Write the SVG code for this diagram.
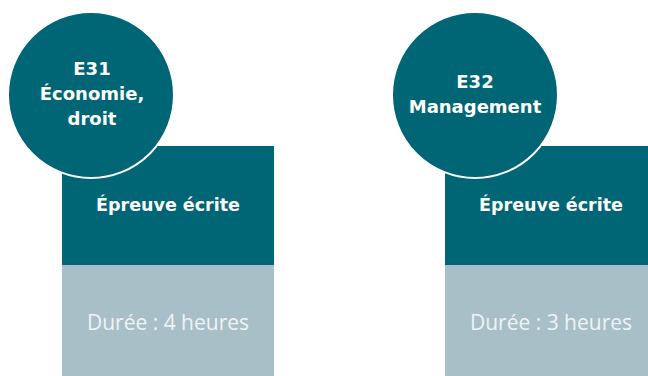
<svg xmlns="http://www.w3.org/2000/svg" width="648" height="376" viewBox="0 0 648 376">
<style>
.dark{fill:#006675}
.light{fill:#a8bfc8}
.circ{fill:#006675;stroke:#ffffff;stroke-width:2}
.hd{font-family:"DejaVu Sans",sans-serif;font-weight:bold;fill:#ffffff;text-anchor:middle}
.ep{font-family:"DejaVu Sans",sans-serif;font-weight:bold;font-size:17.5px;fill:#ffffff;text-anchor:middle}
.du{font-family:"Open Sans",sans-serif;font-size:21px;fill:#eef3f5;text-anchor:middle}
</style>
<rect width="648" height="376" fill="#ffffff"/>
<g id="e31">
<rect class="dark" x="62" y="146" width="212" height="119"/>
<rect class="light" x="62" y="265" width="212" height="111"/>
<text class="ep" x="168" y="211">Épreuve écrite</text>
<text class="du" x="168" y="330">Durée : 4 heures</text>
<circle class="circ" cx="91" cy="95" r="83"/>
<text class="hd" font-size="18" x="92" y="75">E31</text>
<text class="hd" font-size="18" x="92" y="100">Économie,</text>
<text class="hd" font-size="18" x="92" y="125">droit</text>
</g>
<g id="e32">
<rect class="dark" x="445" y="146" width="212" height="119"/>
<rect class="light" x="445" y="265" width="212" height="111"/>
<text class="ep" x="551" y="211">Épreuve écrite</text>
<text class="du" x="551" y="330">Durée : 3 heures</text>
<circle class="circ" cx="475" cy="95" r="83"/>
<text class="hd" font-size="18" x="475" y="88">E32</text>
<text class="hd" font-size="18" x="475" y="113">Management</text>
</g>
<g id="connectors"></g>
</svg>
